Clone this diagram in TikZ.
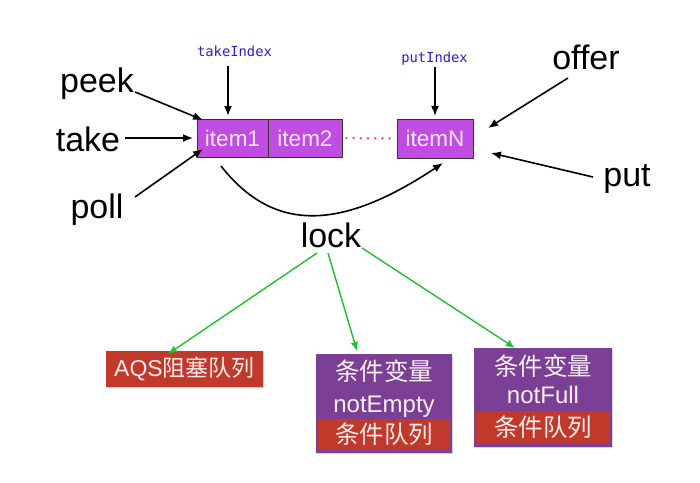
\documentclass[tikz,border=0pt]{standalone}
\usepackage{fontspec}
\setmainfont{Liberation Sans}
\newfontfamily\cjk{Noto Sans CJK SC}
\newfontfamily\monof{DejaVu Sans Mono}
\usetikzlibrary{arrows.meta,shadows}
\definecolor{itemfill}{RGB}{192,76,226}
\definecolor{itemtext}{RGB}{248,232,248}
\definecolor{boxred}{RGB}{192,57,43}
\definecolor{boxpurple}{RGB}{123,63,150}
\definecolor{idxblue}{RGB}{50,30,200}
\definecolor{arrgreen}{RGB}{34,190,50}
\definecolor{dotred}{RGB}{232,80,80}
\begin{document}
\begin{tikzpicture}[x=1pt,y=-1pt,
  big/.style={font=\fontsize{34}{40}\selectfont, inner sep=0pt, anchor=base},
  idx/.style={font=\monof\fontsize{13.8}{16}\selectfont, text=idxblue, inner sep=0pt, anchor=base},
  itembox/.style={draw=black!80, line width=0.8pt, fill=itemfill, text=itemtext, inner sep=0pt,
     font=\fontsize{22.5}{26}\selectfont, drop shadow={shadow xshift=1pt, shadow yshift=-1pt, opacity=0.35}},
  redbox/.style={fill=boxred, text=white!92!red, inner sep=0pt, font=\fontsize{23}{27}\selectfont},
  purplebox/.style={fill=boxpurple, inner sep=0pt, drop shadow={shadow xshift=1.2pt, shadow yshift=-1.2pt, opacity=0.35}},
  lbl/.style={text=white!94!purple, inner sep=0pt, font=\fontsize{24}{28}\selectfont},
  cjklbl/.style={text=white!94!purple, inner sep=0pt, font=\cjk\fontsize{24.5}{28}\selectfont},
  blk/.style={line width=1.6pt, -{Latex[length=10pt,width=8pt]}},
  grn/.style={draw=arrgreen, line width=1.4pt, -{Latex[length=9pt,width=7.5pt]}, color=arrgreen}
]
\useasboundingbox (0,0) rectangle (700,482);
\fill[white] (0,0) rectangle (700,482);

% items
\node[itembox, minimum width=71pt, minimum height=38pt] (item1) at (232.5,138) {item1};
\node[itembox, minimum width=74pt, minimum height=38pt] (item2) at (305,138) {item2};
\node[itembox, minimum width=76pt, minimum height=39pt] (itemN) at (435,138.5) {itemN};
\draw[dotred, line width=2.6pt, line cap=round, dash pattern=on 0pt off 7.2pt] ([xshift=4pt]item2.east) -- ([xshift=-2pt]itemN.west);

% labels
\node[big] (peek) at (97,92) {peek};
\node[big] (take) at (88,151) {take};
\node[big] (poll) at (97,218) {poll};
\node[big] (offer) at (586,69) {offer};
\node[big] (put) at (627,186) {put};
\node[big] (lock) at (331,247) {lock};
\node[idx] (ti) at (234.5,56) {takeIndex};
\node[idx] (pi) at (434.5,62) {putIndex};

% tips
\coordinate (tiS) at (228,66);
\coordinate (tiT) at (228,116);
\coordinate (piS) at (435,67);
\coordinate (piT) at (435,116);
\coordinate (peekS) at (135,92);
\coordinate (peekT) at (203,120);
\coordinate (takeS) at (125,138);
\coordinate (takeT) at (193,138);
\coordinate (pollS) at (135,197);
\coordinate (pollT) at (203,149);
\coordinate (offerS) at (568,78);
\coordinate (offerT) at (488,128);
\coordinate (putS) at (593,177);
\coordinate (putT) at (491,153);
\coordinate (curS) at (221,166);
\coordinate (curT) at (443,163);

\draw[blk] (tiS) -- (tiT);
\draw[blk] (piS) -- (piT);
\draw[blk] (peekS) -- (peekT);
\draw[blk] (takeS) -- (takeT);
\draw[blk] (pollS) -- (pollT);
\draw[blk] (offerS) -- (offerT);
\draw[blk] (putS) -- (putT);
\draw[blk] (curS) .. controls (273,232) and (339,232) .. (curT);

% bottom boxes
\node[redbox, minimum width=157pt, minimum height=36pt, drop shadow={shadow xshift=1pt, shadow yshift=-1pt, opacity=0.35}] (aqs) at (184.5,369) {AQS{\cjk 阻塞队列}};

\node[purplebox, minimum width=136pt, minimum height=99pt] (ne) at (384,403.5) {};
\node[redbox, minimum width=132pt, minimum height=31pt, font=\cjk\fontsize{24.5}{28}\selectfont] (neq) at (384,434) {条件队列};
\node[cjklbl] (nev) at (384,371) {条件变量};
\node[lbl, anchor=base] (nen) at (384,412) {notEmpty};

\node[purplebox, minimum width=138pt, minimum height=99pt] (nf) at (543,397.5) {};
\node[redbox, minimum width=134pt, minimum height=33pt, font=\cjk\fontsize{24.5}{28}\selectfont] (nfq) at (543,427.5) {条件队列};
\node[cjklbl] (nfv) at (543,366) {条件变量};
\node[lbl, anchor=base] (nfn) at (543,403) {notFull};

% green arrows
\coordinate (g1S) at (317,253);
\coordinate (g2S) at (328,253);
\coordinate (g3S) at (362,248);
\coordinate (g1T) at (168,354);
\coordinate (g2T) at (357,351);
\coordinate (g3T) at (515,348);
\draw[grn] (g1S) -- (g1T);
\draw[grn] (g2S) -- (g2T);
\draw[grn] (g3S) -- (g3T);
\end{tikzpicture}
\end{document}
